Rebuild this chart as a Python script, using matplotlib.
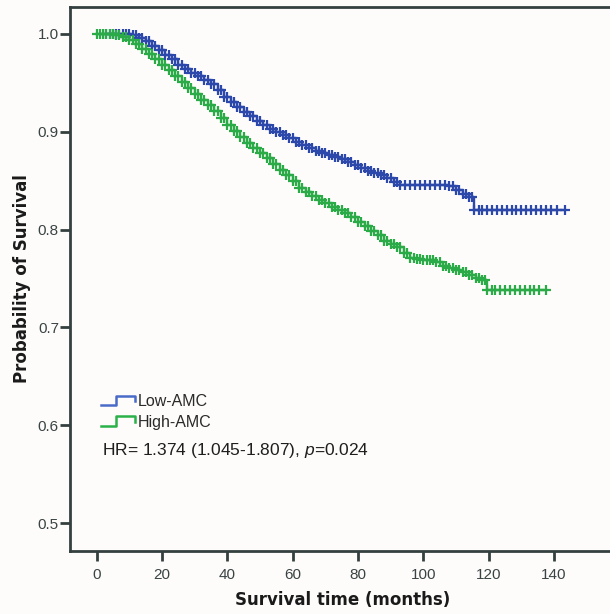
import bisect
import matplotlib
matplotlib.use("Agg")
import matplotlib.pyplot as plt
from matplotlib.lines import Line2D
from matplotlib.legend_handler import HandlerBase

plt.rcParams['font.family'] = ['Liberation Sans', 'DejaVu Sans']
plt.rcParams['mathtext.fontset'] = 'custom'
plt.rcParams['mathtext.it'] = 'Liberation Sans:italic'
plt.rcParams['mathtext.rm'] = 'Liberation Sans'

# ---- data ----
low_t = [3, 6, 9, 11, 13, 15, 17, 19, 21, 23, 25, 27, 29, 31, 33, 35, 37, 39, 41, 43,
         45, 47, 49, 51, 53, 55, 57, 59, 61, 63, 65, 67, 69, 71, 73, 75, 77, 79, 81, 83,
         85, 87, 89, 91, 93, 96, 99, 102, 105, 108, 110, 112, 114, 115.5, 118, 121, 124,
         127, 130, 133, 136, 139, 143.5]
low_s = [1.0, 1.0, 1.0, 0.999, 0.996, 0.993, 0.988, 0.984, 0.979, 0.974, 0.968, 0.964,
         0.960, 0.957, 0.953, 0.949, 0.943, 0.936, 0.930, 0.925, 0.920, 0.916, 0.911,
         0.907, 0.903, 0.900, 0.897, 0.894, 0.890, 0.886, 0.883, 0.880, 0.878, 0.876,
         0.874, 0.872, 0.869, 0.866, 0.863, 0.860, 0.858, 0.856, 0.853, 0.849, 0.846,
         0.846, 0.846, 0.846, 0.846, 0.845, 0.840, 0.836, 0.833, 0.820, 0.820, 0.820,
         0.820, 0.820, 0.820, 0.820, 0.820, 0.820, 0.820]
low_censor = [4, 5, 7, 8, 10, 12, 14, 16, 18, 20, 22, 24, 26, 28, 30, 32, 34, 36, 38, 40,
              42, 44, 46, 48, 50, 52, 54, 56, 58, 60, 62, 64, 66, 68, 70, 72, 74, 76, 78,
              80, 82, 84, 86, 88, 90, 92, 94.5, 97.5, 100.5, 103.5, 106.5, 109, 111, 113,
              114.8, 117, 119.5, 122.5, 125.5, 128.5, 131.5, 134.5, 137.5, 141]

high_t = [0, 2, 4, 6, 8, 10, 12, 14, 16, 18, 20, 22, 24, 26, 28, 30, 32, 34, 36, 38, 40,
          42, 44, 46, 48, 50, 52, 54, 56, 58, 60, 62, 64, 66, 68, 70, 72, 74, 76, 78, 80,
          82, 84, 86, 88, 90, 92, 94, 96, 98, 100, 102, 104, 106, 108, 110, 112, 114, 116,
          118, 119.5, 122, 125, 128, 131, 134, 137.4]
high_s = [1.0, 1.0, 1.0, 0.999, 0.997, 0.994, 0.990, 0.985, 0.980, 0.974, 0.968, 0.963,
          0.957, 0.951, 0.945, 0.939, 0.933, 0.927, 0.921, 0.914, 0.907, 0.901, 0.895,
          0.889, 0.883, 0.878, 0.873, 0.867, 0.861, 0.856, 0.850, 0.843, 0.838, 0.834,
          0.830, 0.827, 0.823, 0.820, 0.817, 0.813, 0.808, 0.804, 0.799, 0.794, 0.788,
          0.785, 0.782, 0.776, 0.771, 0.770, 0.769, 0.769, 0.767, 0.763, 0.761, 0.759,
          0.757, 0.754, 0.751, 0.748, 0.738, 0.738, 0.738, 0.738, 0.738, 0.738, 0.738]
high_censor = [1, 3, 5, 7, 9, 11, 13, 15, 17, 19, 21, 23, 25, 27, 29, 31, 33, 35, 37, 39,
               41, 43, 45, 47, 49, 51, 53, 55, 57, 59, 61, 63, 65, 67, 69, 71, 73, 75, 77,
               79, 81, 83, 85, 87, 89, 91, 93, 95, 97, 99, 101, 103, 105, 107, 109, 111,
               113, 115, 117, 118.8, 121, 123.5, 126.5, 129.5, 132.5, 135.5]

series_names = ["Low-AMC", "High-AMC"]
x_ticks = [0, 20, 40, 60, 80, 100, 120, 140]
y_ticks = [0.5, 0.6, 0.7, 0.8, 0.9, 1.0]
hr_text = "HR= 1.374 (1.045-1.807), $p$=0.024"

BLUE = '#2b48aa'
GREEN = '#2bab48'
BLUE_LEG = '#4a6cc8'
GREEN_LEG = '#2bb14a'
AX = '#34403f'

W, H = 610, 614
fig = plt.figure(figsize=(W / 100, H / 100), dpi=100, facecolor='#fdfcfa')
ax = fig.add_axes([70 / W, 63 / H, 1 - 70 / W + 0.01, (551 - 7) / H])
ax.set_facecolor('#fdfcfa')


def step_value(times, surv, t):
    i = bisect.bisect_right(times, t) - 1
    return surv[max(i, 0)]


for t, s, cens, c in [(low_t, low_s, low_censor, BLUE),
                      (high_t, high_s, high_censor, GREEN)]:
    ax.plot(t, s, drawstyle='steps-post', color=c, lw=1.7, zorder=3)
    mt = list(t) + list(cens)
    ms = list(s) + [step_value(t, s, ct) for ct in cens]
    ax.plot(mt, ms, linestyle='none', marker='+', ms=7, mew=1.6, color=c, zorder=4)

ax.set_xlim(-8.15, 159)
ax.set_ylim(0.4714, 1.0276)
ax.set_xticks(x_ticks)
ax.set_xticklabels([str(v) for v in x_ticks])
ax.set_yticks(y_ticks)
ax.set_yticklabels([f"{v:.1f}" for v in y_ticks])

for side in ['left', 'bottom', 'top']:
    ax.spines[side].set_color(AX)
    ax.spines[side].set_linewidth(2.0)
ax.spines['right'].set_visible(False)
ax.tick_params(axis='x', length=7, width=2, color=AX, labelsize=11, labelcolor='#3a4444', pad=5)
ax.tick_params(axis='y', length=7, width=2, color=AX, labelsize=11, labelcolor='#3a4444', pad=1)

ax.set_xlabel("Survival time (months)", fontsize=12, fontweight='bold',
              family=['DejaVu Sans'], color='#1a1a1a', labelpad=7)
ax.set_ylabel("Probability of Survival", fontsize=12, fontweight='bold',
              family=['DejaVu Sans'], color='#1a1a1a', labelpad=5)


class StepHandler(HandlerBase):
    def create_artists(self, legend, orig_handle, xdescent, ydescent, width, height,
                       fontsize, trans):
        x0, x1 = -xdescent, -xdescent + width
        y0, y1 = -ydescent + height * 0.1, -ydescent + height * 0.9
        xm = x0 + width * 0.45
        line = Line2D([x0, xm, xm, x1, x1], [y0, y0, y1, y1, y0 + height * 0.35],
                      color=orig_handle.get_color(), lw=1.8, transform=trans)
        return [line]


handles = [Line2D([], [], color=BLUE_LEG), Line2D([], [], color=GREEN_LEG)]
leg = ax.legend(handles, series_names, handler_map={Line2D: StepHandler()},
                loc='upper left', bbox_to_anchor=(101 / W, 1 - 394 / H),
                bbox_transform=fig.transFigure, frameon=False, fontsize=11.5,
                handlelength=2.1, handleheight=0.8, handletextpad=0.2,
                labelspacing=0.35, borderpad=0, borderaxespad=0)
for txt in leg.get_texts():
    txt.set_color('#2a2a2a')

fig.text(102 / W, 1 - 450 / H, hr_text, fontsize=12.5, color='#1e1e1e',
         ha='left', va='center')

fig.savefig('out.png', dpi=100, facecolor=fig.get_facecolor())
